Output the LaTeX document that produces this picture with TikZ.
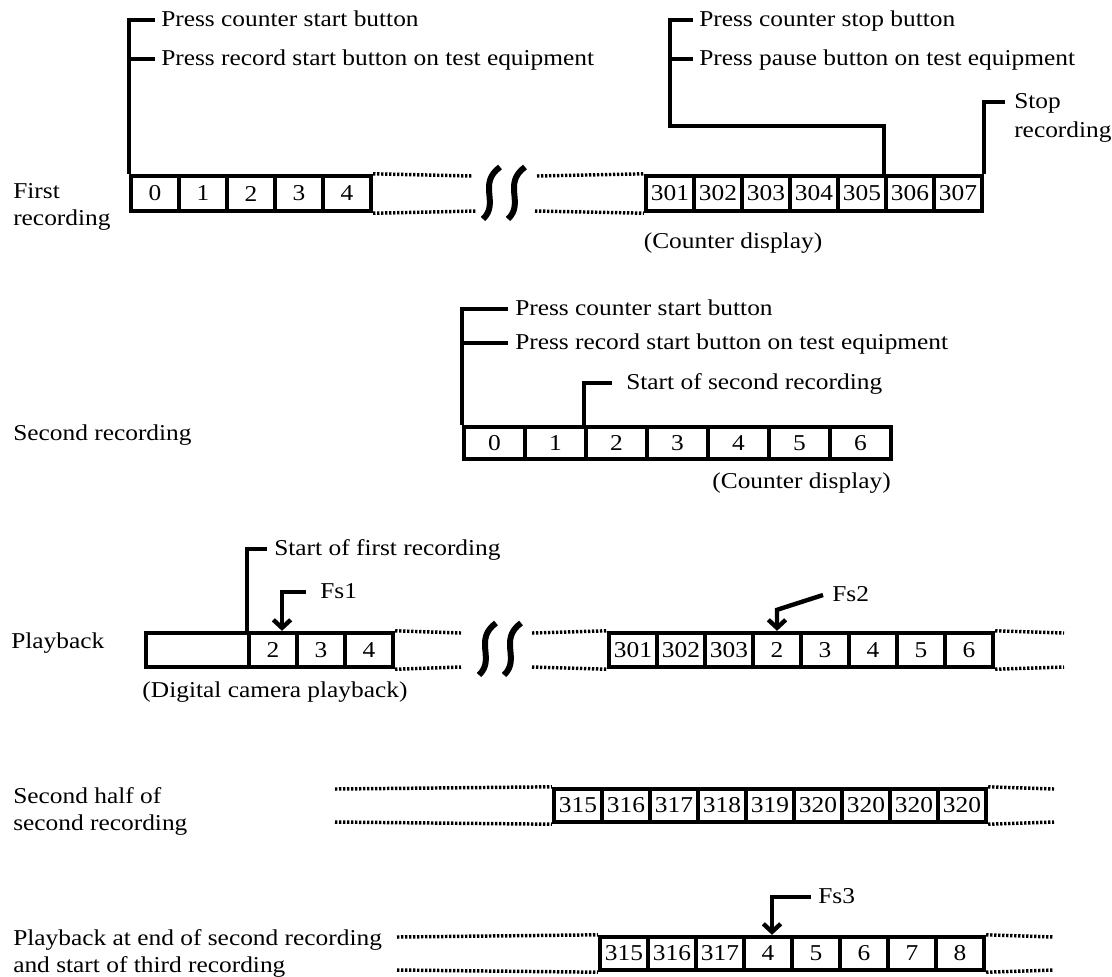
\documentclass[tikz,border=0pt]{standalone}
\usepackage{fontspec}
\setmainfont{Liberation Serif}[FakeStretch=1.12]
\usetikzlibrary{arrows.meta}
\tikzset{
  cell/.style={draw,line width=3.3pt,inner sep=0pt,minimum width=36pt},
  bar/.style={line width=3.3pt},
  gap/.style={line width=2.6pt,dash pattern=on 1.7pt off 1.3pt},
  wave/.style={line width=4.5pt},
  lbl/.style={anchor=west,inner ysep=0pt,inner xsep=4.5pt,text height=1em,text depth=0pt},
  side/.style={anchor=west,inner sep=0pt,align=left},
  tip/.style={bar,-{Straight Barb[length=6pt,width=13pt]}}
}
\begin{document}
\begin{tikzpicture}[x=0.75pt,y=-0.75pt,font=\fontsize{17}{20.25}\selectfont]
\useasboundingbox (0,0) rectangle (1112,976);

% first recording
\node[side] (first) at (13,207) {First\\recording};
\foreach \lab [count=\i from 0] in {0,1,2,3,4}
  \node[cell,minimum height=26.25pt] (r1a\i) at ({155+48*\i},193.5) {\lab};
\foreach \lab [count=\i from 0] in {301,302,303,304,305,306,307}
  \node[cell,minimum height=26.25pt] (r1b\i) at ({670+48*\i},193.5) {\lab};
\draw[gap] (r1a4.north east) -- (472,176);
\draw[gap] (r1a4.south east) -- (477,211);
\draw[wave] (483,219) .. controls (500,203) and (477,184) .. (500,167);
\draw[wave] (508,219) .. controls (525,203) and (502,184) .. (525,167);
\draw[gap] (537,176) -- (r1b0.north west);
\draw[gap] (535,211) -- (r1b0.south west);
\node[lbl] (pcs1) at (155,20) {Press counter start button};
\node[lbl] (prs1) at (155,59) {Press record start button on test equipment};
\draw[bar] (pcs1.west) -| (r1a0.north west);
\draw[bar] (prs1.west) -- (prs1.west -| r1a0.north west);
\coordinate (bend) at (670,126);
\node[lbl] (pcs2) at (693,20) {Press counter stop button};
\node[lbl] (ppb2) at (693,59) {Press pause button on test equipment};
\draw[bar] (pcs2.west) -| (bend) -| (r1b5.north west);
\draw[bar] (ppb2.west) -- (ppb2.west -| bend);
\node[lbl,inner xsep=6.75pt] (stop) at (1005,102) {Stop};
\node[anchor=base west,inner sep=0pt] (stoprec) at (1014,137) {recording};
\draw[bar] (stop.west) -| (r1b6.north east);
\node (cd1) at (733,243) {(Counter display)};

% second recording
\node[side] (second) at (13,435) {Second recording};
\foreach \lab [count=\i from 0] in {0,1,2,3,4,5,6}
  \node[cell,minimum width=45.75pt,minimum height=24pt] (r2c\i) at ({494.5+61*\i},443) {\lab};
\node[lbl,inner xsep=5.25pt] (pcs3) at (508,309) {Press counter start button};
\node[lbl,inner xsep=5.25pt] (prs3) at (508,343) {Press record start button on test equipment};
\draw[bar] (pcs3.west) -| (r2c0.north west);
\draw[bar] (prs3.west) -- (prs3.west -| r2c0.north west);
\node[lbl,inner xsep=10.5pt] (sos) at (612,383) {Start of second recording};
\draw[bar] (sos.west) -| (r2c2.north west);
\node[anchor=east,inner sep=0pt] (cd2) at (891,483) {(Counter display)};

% playback
\node[side] (play) at (11,643) {Playback};
\node[cell,minimum width=77.25pt,minimum height=25.5pt] (r3c0) at (197.5,650) {};
\foreach \lab [count=\i] in {2,3,4}
  \node[cell,minimum height=25.5pt] (r3c\i) at ({225+48*\i},650) {\lab};
\foreach \lab [count=\i from 0] in {301,302,303,2,3,4,5,6}
  \node[cell,minimum height=25.5pt] (r3d\i) at ({633+48*\i},650) {\lab};
\draw[gap] (r3c3.north east) -- (461,633);
\draw[gap] (r3c3.south east) -- (461,667);
\draw[wave] (479,675) .. controls (496,659) and (473,640) .. (496,623);
\draw[wave] (504,675) .. controls (521,659) and (498,640) .. (521,623);
\draw[gap] (532,633) -- (r3d0.north west);
\draw[gap] (532,667) -- (r3d0.south west);
\draw[gap] (r3d7.north east) -- (1064,633);
\draw[gap] (r3d7.south east) -- (1064,667);
\node[lbl,inner xsep=5.25pt] (sof) at (267,549) {Start of first recording};
\draw[bar] (sof.west) -| (r3c1.north west);
\node[lbl,inner xsep=10.5pt] (fs1) at (306,592) {Fs1};
\draw[tip] (fs1.west) -| ([xshift=6.75pt]r3c1.north);
\node[lbl,inner xsep=6.75pt] (fs2) at (823,595) {Fs2};
\draw[tip] (fs2.west) -- ([yshift=15.75pt]r3d3.north) -- (r3d3.north);
\node (dcp) at (275,692) {(Digital camera playback)};

% second half of second recording
\node[side] (half) at (13,811) {Second half of\\second recording};
\foreach \lab [count=\i from 0] in {315,316,317,318,319,320,320,320,320}
  \node[cell,minimum height=24.75pt] (r4c\i) at ({578+48*\i},805.5) {\lab};
\draw[gap] (335,789) -- (r4c0.north west);
\draw[gap] (335,822) -- (r4c0.south west);
\draw[gap] (r4c8.north east) -- (1054,789);
\draw[gap] (r4c8.south east) -- (1054,822);

% playback at end of second recording
\node[side] (third) at (13,953) {Playback at end of second recording\\and start of third recording};
\foreach \lab [count=\i from 0] in {315,316,317,4,5,6,7,8}
  \node[cell,minimum height=24.75pt] (r5c\i) at ({624+48*\i},953.5) {\lab};
\draw[gap] (397,937) -- (r5c0.north west);
\draw[gap] (397,970) -- (r5c0.south west);
\draw[gap] (r5c7.north east) -- (1054,937);
\draw[gap] (r5c7.south east) -- (1054,970);
\node[lbl,inner xsep=5.25pt] (fs3) at (811,897) {Fs3};
\draw[tip] (fs3.west) -| ([xshift=3pt]r5c3.north);
\end{tikzpicture}
\end{document}
